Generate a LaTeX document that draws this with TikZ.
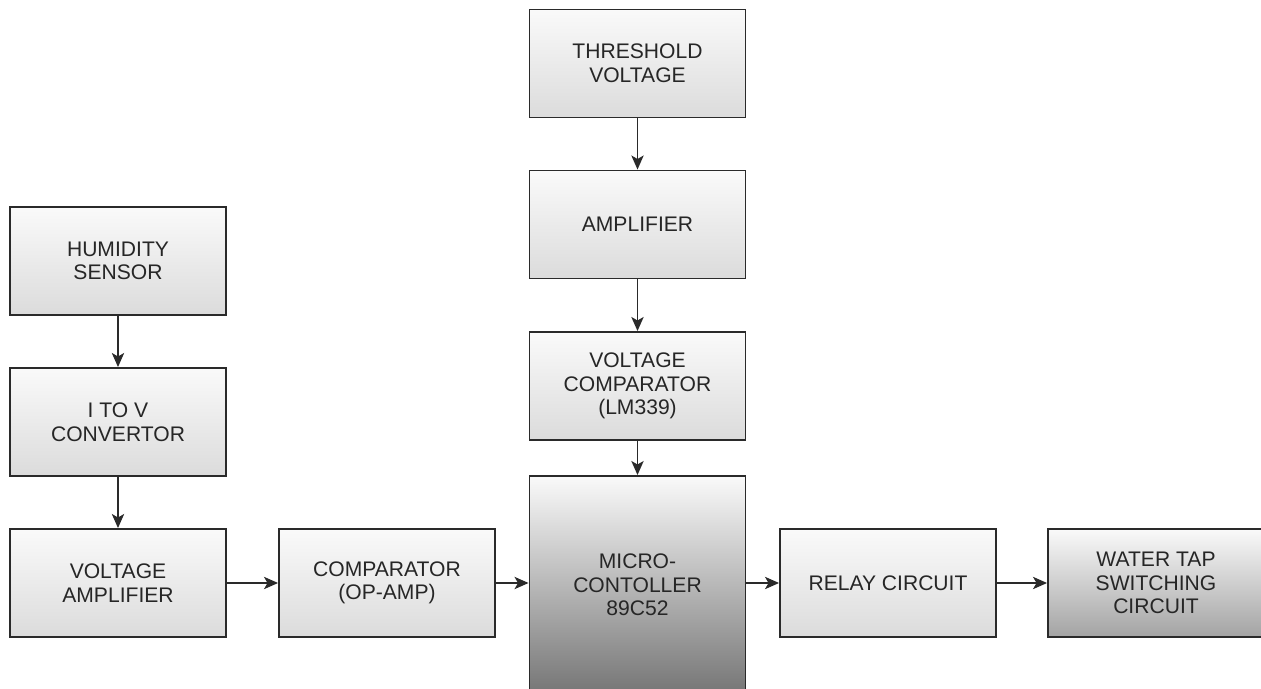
\documentclass[tikz,border=0pt]{standalone}
\usepackage{fontspec}
\setmainfont{Liberation Sans}
\usetikzlibrary{arrows.meta}
\definecolor{boxline}{HTML}{2A2A2A}
\definecolor{boxtext}{HTML}{262626}
\begin{document}
\begin{tikzpicture}[x=0.02cm,y=-0.02cm,
        >={Stealth[length=8pt,width=7pt,inset=2pt]}]
        \useasboundingbox (0,0) rectangle (1261,689);
        \begin{scope}[every node/.style={rectangle,draw=boxline,line width=1.1pt,
                        top color=black!2,bottom color=black!14,text=boxtext,
                        align=center,font=\fontsize{12}{13.4}\selectfont,
                        minimum width=4.32cm,minimum height=2.16cm,inner sep=2pt}]
            \node (TV) at (637.5,63.5) {THRESHOLD\\VOLTAGE};
            \node (AMP) at (637.5,224.5) {AMPLIFIER};
            \node (VC) at (637.5,386) {VOLTAGE\\COMPARATOR\\(LM339)};
            \node (MC) at (637.5,585) [minimum height=4.36cm,
                bottom color=black!54] {MICRO-\\CONTOLLER\\89C52};
            \node (HS) at (118,261) {HUMIDITY\\SENSOR};
            \node (IV) at (118,422) {I TO V\\CONVERTOR};
            \node (VA) at (118,583) {VOLTAGE\\AMPLIFIER};
            \node (CMP) at (387,583) {COMPARATOR\\(OP-AMP)};
            \node (RC) at (888,583) {RELAY CIRCUIT};
            \node (WT) at (1156,583) [bottom color=black!36] {WATER TAP\\SWITCHING\\CIRCUIT};
        \end{scope}

        \begin{scope}[line width=0.9pt,draw=boxline]
            \path[->] (TV) edge (AMP);
            \path[->] (AMP) edge (VC);
            \path[->] (VC) edge (MC);
            \path[->] (HS) edge (IV);
            \path[->] (IV) edge (VA);
            \path[->] (VA) edge (CMP);
            \path[->] (CMP) edge (MC.west |- CMP);
            \path[->] (MC.east |- RC) edge (RC);
            \path[->] (RC) edge (WT);
        \end{scope}
    \end{tikzpicture}
\end{document}
